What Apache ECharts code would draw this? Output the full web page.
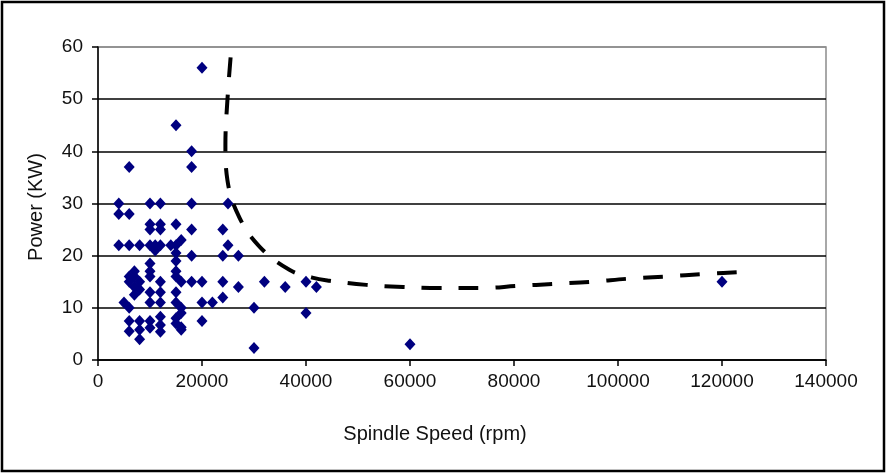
<!DOCTYPE html>
<html>
<head>
<meta charset="utf-8">
<script src="https://cdn.jsdelivr.net/npm/echarts@6/dist/echarts.min.js"></script>
<style>
  html, body { margin: 0; padding: 0; background: #fff; }
  #chart { width: 886px; height: 473px; }
</style>
</head>
<body>
<div id="chart"></div>
<script>
// measured points: spindle speed (rpm) / power (KW)
var speedRpm = [
  4000, 4000, 4000, 5000,
  6000, 6000, 6000, 6000, 6000, 6000, 6000, 6000,
  7000, 7000, 7000, 7000,
  8000, 8000, 8000, 8000, 8000, 8000,
  10000, 10000, 10000, 10000, 10000, 10000, 10000, 10000, 10000, 10000, 10000,
  11000, 11000,
  12000, 12000, 12000, 12000, 12000, 12000, 12000, 12000, 12000, 12000,
  14000,
  15000, 15000, 15000, 15000, 15000, 15000, 15000, 15000, 15000, 15000, 15000,
  16000, 16000, 16000, 16000, 16000, 16000,
  18000, 18000, 18000, 18000, 18000, 18000,
  20000, 20000, 20000, 20000,
  22000,
  24000, 24000, 24000, 24000,
  25000, 25000,
  27000, 27000,
  30000, 30000,
  32000, 36000, 40000, 40000, 42000, 60000, 120000
];
var powerKw = [
  30, 28, 22, 11,
  37, 28, 22, 16, 15, 10, 7.5, 5.5,
  17, 16, 14, 12.5,
  22, 15, 13.5, 7.5, 5.8, 4,
  30, 26, 25, 22, 18.5, 17, 16, 13, 11, 7.5, 6.2,
  22, 21,
  30, 26, 25, 22, 15, 13, 11, 8.3, 6.7, 5.4,
  22,
  45, 26, 22, 20.5, 19, 17, 16, 13, 11, 8, 7,
  23, 15, 10, 9, 6.3, 5.8,
  40, 37, 30, 25, 20, 15,
  56, 15, 11, 7.5,
  11,
  25, 20, 15, 12,
  30, 22,
  20, 14,
  10, 2.3,
  15, 14, 15, 9, 14, 3, 15
];

// dashed trend curve
var curveX = [25500, 24900, 24500, 24900, 27200, 31100, 36800, 41200, 44500, 51600,
  58700, 65700, 73600, 80700, 87800, 94900, 102200, 109300, 116600, 123900, 126000];
var curveY = [58, 50, 41.2, 34.4, 27.3, 21.7, 17.3, 15.8, 15.2, 14.4,
  14, 13.8, 13.8, 14.2, 14.6, 15, 15.6, 16, 16.5, 16.9, 17.1];

var yTicks = [0, 10, 20, 30, 40, 50, 60];

var chart = echarts.init(document.getElementById('chart'));

var pts = speedRpm.map(function (s, i) { return [s, powerKw[i]]; });
var curve = curveX.map(function (x, i) { return [x, curveY[i]]; });

var font = 'Liberation Sans, Arial, sans-serif';
var textColor = '#111';

var option = {
  animation: false,
  backgroundColor: '#fff',
  grid: {
    left: 98, right: 60, top: 47, bottom: 113,
    show: true, borderColor: '#8c8c8c', borderWidth: 1.5,
    backgroundColor: 'transparent'
  },
  xAxis: {
    type: 'value', min: 0, max: 140000, interval: 20000,
    axisLine: { lineStyle: { color: '#000', width: 1.5 } },
    axisTick: { length: 6, lineStyle: { color: '#000', width: 1.5 } },
    axisLabel: {
      color: textColor, fontFamily: font, fontSize: 19, margin: 12,
      formatter: function (v) { return String(v); }
    },
    splitLine: { show: false }
  },
  yAxis: {
    type: 'value', min: 0, max: 60, interval: 10,
    axisLine: { show: true, lineStyle: { color: '#000', width: 1.5 } },
    axisTick: { show: true, length: 6, lineStyle: { color: '#000', width: 1.5 } },
    axisLabel: { color: textColor, fontFamily: font, fontSize: 19, margin: 15 },
    splitLine: {
      lineStyle: {
        color: yTicks.map(function (t) { return t === 60 ? '#8c8c8c' : '#000'; }),
        width: 1.5
      }
    }
  },
  graphic: [
    {
      type: 'rect', shape: { x: 2, y: 2, width: 882, height: 469 },
      style: { fill: 'none', stroke: '#000', lineWidth: 2.5 }, z: 100
    },
    {
      type: 'text', x: 435, y: 434,
      style: { text: 'Spindle Speed (rpm)', font: '20px ' + font, fill: textColor,
        align: 'center', verticalAlign: 'middle' }
    },
    {
      type: 'text', x: 36, y: 207, rotation: Math.PI / 2,
      style: { text: 'Power (KW)', font: '20px ' + font, fill: textColor,
        align: 'center', verticalAlign: 'middle' }
    }
  ],
  series: [
    {
      type: 'line', data: curve, smooth: 0.4, showSymbol: false,
      lineStyle: { color: '#000', width: 4, type: [20, 17] }, z: 3
    },
    {
      type: 'scatter', data: pts, symbol: 'diamond', symbolSize: [11, 12],
      itemStyle: { color: '#000080', opacity: 1 }, z: 4
    }
  ]
};

chart.setOption(option);
</script>
</body>
</html>
